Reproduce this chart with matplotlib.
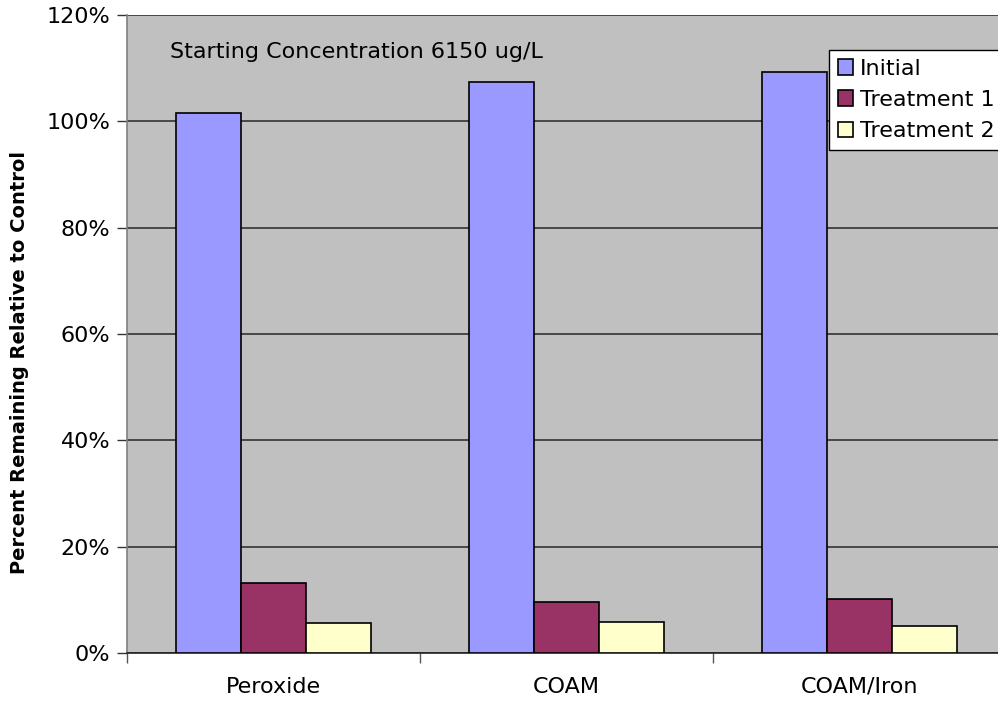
import matplotlib
matplotlib.use("Agg")
import matplotlib.pyplot as plt
import numpy as np
from matplotlib.ticker import FuncFormatter, FixedLocator

categories = ["Peroxide", "COAM", "COAM/Iron"]
series_names = ["Initial", "Treatment 1", "Treatment 2"]
initial = [101.5, 107.4, 109.3]
treatment1 = [13.1, 9.5, 10.2]
treatment2 = [5.6, 5.9, 5.0]
colors = ["#9999FF", "#993366", "#FFFFCC"]
y_ticks = [0, 20, 40, 60, 80, 100, 120]

plt.rcParams["font.family"] = ["DejaVu Sans"]
FS = 16

W, H = 998, 704
fig = plt.figure(figsize=(W / 100, H / 100), dpi=100)
fig.patch.set_facecolor("white")
ax = fig.add_axes([127 / W, 1 - 653 / H, 879 / W, 638 / H])
ax.set_facecolor("#C0C0C0")

x = np.arange(len(categories))
bw = 0.222
handles = []
for i, (vals, name, c) in enumerate(zip([initial, treatment1, treatment2], series_names, colors)):
    b = ax.bar(x + (i - 1) * bw, vals, width=bw, color=c, edgecolor="black",
               linewidth=1.2, label=name, zorder=3)
    handles.append(b)

ax.set_xlim(-0.5, len(categories) - 0.5)
ax.set_ylim(0, 120)
ax.set_yticks(y_ticks)
ax.yaxis.set_major_formatter(FuncFormatter(lambda v, p: f"{v:.0f}%"))
ax.yaxis.grid(True, color="#333333", linewidth=1.2, zorder=1)
ax.set_axisbelow(True)

ax.set_xticks(x)
ax.set_xticklabels(categories, fontsize=FS)
ax.tick_params(axis="x", which="major", length=0, pad=17)
ax.xaxis.set_minor_locator(FixedLocator(np.arange(len(categories) + 1) - 0.5))
ax.tick_params(axis="x", which="minor", length=7, width=1, color="#555555")
ax.tick_params(axis="y", length=7, width=1, color="#333333", labelsize=FS, pad=5)

for s in ["top", "right"]:
    ax.spines[s].set_visible(False)
ax.spines["left"].set_color("#808080")
ax.spines["left"].set_linewidth(1.2)
ax.spines["bottom"].set_color("#222222")
ax.spines["bottom"].set_linewidth(1.2)

fig.text(20 / W, 1 - 363 / H, "Percent Remaining Relative to Control", fontsize=14,
         fontweight="bold", rotation=90, ha="center", va="center")

fig.text(170 / W, 1 - 52 / H, "Starting Concentration 6150 ug/L", fontsize=FS,
         ha="left", va="center")

leg = fig.legend(handles=handles, labels=series_names, loc="upper left",
                 bbox_to_anchor=(829 / W, 1 - 50 / H), fontsize=FS,
                 frameon=True, fancybox=False, edgecolor="black",
                 facecolor="white", framealpha=1,
                 handlelength=0.7, handleheight=0.7, handletextpad=0.3,
                 labelspacing=0.5, borderpad=0.4, borderaxespad=0)
leg.get_frame().set_linewidth(1.0)

fig.savefig("out.png", dpi=100)
